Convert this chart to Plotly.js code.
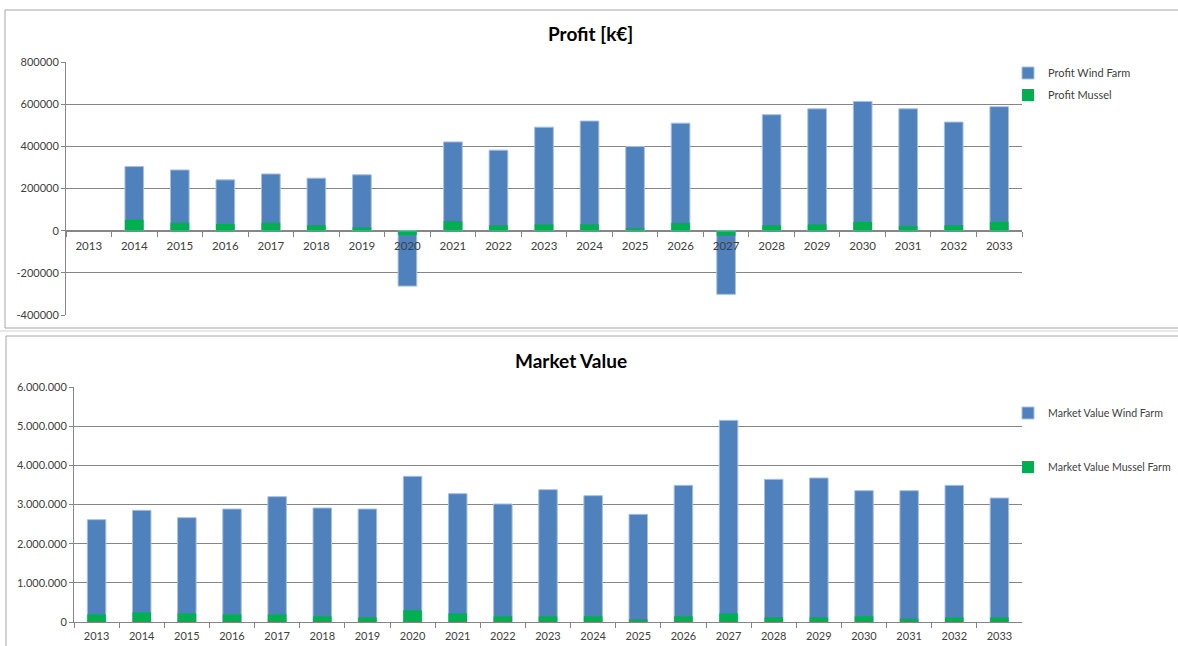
<!DOCTYPE html>
<html>
<head>
<meta charset="utf-8">
<script src="https://cdn.plot.ly/plotly-3.0.1.min.js"></script>
<style>
html,body{margin:0;padding:0;background:#fff;}
#chart{width:1178px;height:646px;}
</style>
</head>
<body>
<div id="chart"></div>
<script>
// ---- Data ----
const years = ['2013','2014','2015','2016','2017','2018','2019','2020','2021','2022','2023','2024','2025','2026','2027','2028','2029','2030','2031','2032','2033'];

const profitWindFarm = [null, 304000, 288000, 241000, 269000, 249000, 265000, -263000, 421000, 382000, 491000, 520000, 399000, 510000, -302000, 550000, 578000, 613000, 578000, 515000, 588000];
const profitMussel   = [null, 51000, 38000, 32000, 38000, 26000, 16000, -20000, 46000, 26000, 30000, 30000, 11000, 37000, -24000, 26000, 30000, 41000, 21000, 26000, 41000];

const marketValueWindFarm   = [2613000, 2851000, 2664000, 2885000, 3200000, 2911000, 2885000, 3719000, 3277000, 3013000, 3379000, 3226000, 2749000, 3489000, 5149000, 3643000, 3677000, 3353000, 3353000, 3489000, 3166000];
const marketValueMusselFarm = [196000, 247000, 221000, 196000, 196000, 145000, 119000, 298000, 221000, 145000, 145000, 145000, 68000, 145000, 221000, 119000, 119000, 145000, 85000, 119000, 119000];

const profitTickVals = [-400000, -200000, 0, 200000, 400000, 600000, 800000];
const profitTickText = ['-400000', '-200000', '0', '200000', '400000', '600000', '800000'];
const profitRange = [-400000, 800000];
const marketRange = [0, 6000000];
const marketTickVals = [0, 1000000, 2000000, 3000000, 4000000, 5000000, 6000000];

// ---- Style ----
const W = 1178, H = 646;
const BLUE = '#4F81BD', GREEN = '#00B050';
const GRID = '#868686', TXT = '#404040';
const FONT = 'Lato, "Open Sans", sans-serif';
const px = v => v / W;
const py = v => 1 - v / H;

const topDomY = [py(315), py(62)];
const botDomY = [py(622), py(387)];
// x-axis of top chart sits at value 0
const zeroFrac = (0 - profitRange[0]) / (profitRange[1] - profitRange[0]);
const topXPos = topDomY[0] + (topDomY[1] - topDomY[0]) * zeroFrac;

const traces = [
  {type:'bar', x:years, y:profitWindFarm, name:'Profit Wind Farm', xaxis:'x', yaxis:'y',
   marker:{color:BLUE, line:{color:'#a8c0df', width:1}}, legend:'legend', hoverinfo:'x+y'},
  {type:'bar', x:years, y:profitMussel, name:'Profit Mussel', xaxis:'x', yaxis:'y',
   marker:{color:GREEN, line:{width:0}}, legend:'legend2', hoverinfo:'x+y'},
  {type:'bar', x:years, y:marketValueWindFarm, name:'Market Value Wind Farm', xaxis:'x2', yaxis:'y2',
   marker:{color:BLUE, line:{color:'#a8c0df', width:1}}, legend:'legend3', hoverinfo:'x+y'},
  {type:'bar', x:years, y:marketValueMusselFarm, name:'Market Value Mussel Farm', xaxis:'x2', yaxis:'y2',
   marker:{color:GREEN, line:{width:0}}, legend:'legend4', hoverinfo:'x+y'}
];

const legendBase = {xanchor:'left', yanchor:'middle', bgcolor:'rgba(0,0,0,0)', borderwidth:0,
  font:{family:FONT, size:11, color:TXT}, itemclick:false, itemdoubleclick:false};
const legendBot = Object.assign({}, legendBase, {font:{family:FONT, size:10.6, color:TXT}});
const LX = px(1008);

const layout = {
  width: W, height: H,
  margin: {l:0, r:0, t:0, b:0, autoexpand:false},
  paper_bgcolor: '#ffffff',
  plot_bgcolor: 'rgba(0,0,0,0)',
  font: {family: FONT, size: 11, color: TXT},
  separators: ',.',
  barmode: 'overlay',
  bargap: 0.59,
  showlegend: true,
  xaxis: {
    domain: [px(66), px(1022)], anchor: 'free', position: topXPos,
    type: 'category', showgrid: false, zeroline: false,
    showline: true, linecolor: GRID, linewidth: 1,
    ticks: 'outside', tickson: 'boundaries', ticklen: 5, tickcolor: GRID,
    ticklabelstandoff: 5,
    tickfont: {family: FONT, size: 11.5, color: TXT}, fixedrange: true
  },
  yaxis: {
    domain: topDomY, anchor: 'x', range: profitRange,
    tickvals: profitTickVals, ticktext: profitTickText,
    showgrid: true, gridcolor: GRID, gridwidth: 1, zeroline: false,
    showline: true, linecolor: GRID, linewidth: 1,
    ticks: 'outside', ticklen: 4, tickcolor: GRID,
    tickfont: {family: FONT, size: 11, color: TXT}, fixedrange: true
  },
  xaxis2: {
    domain: [px(74), px(1022)], anchor: 'y2',
    type: 'category', showgrid: false, zeroline: false,
    showline: true, linecolor: GRID, linewidth: 1,
    ticks: 'outside', tickson: 'boundaries', ticklen: 5, tickcolor: GRID,
    ticklabelstandoff: 4,
    tickfont: {family: FONT, size: 11, color: TXT}, fixedrange: true
  },
  yaxis2: {
    domain: botDomY, anchor: 'x2', range: marketRange,
    tickvals: marketTickVals, tickformat: ',d',
    showgrid: true, gridcolor: GRID, gridwidth: 1, zeroline: false,
    showline: true, linecolor: GRID, linewidth: 1,
    ticks: 'outside', ticklen: 4, tickcolor: GRID,
    tickfont: {family: FONT, size: 11, color: TXT}, fixedrange: true
  },
  legend:  Object.assign({}, legendBase, {x: LX, y: py(73)}),
  legend2: Object.assign({}, legendBase, {x: LX, y: py(95)}),
  legend3: Object.assign({}, legendBot, {x: LX, y: py(413)}),
  legend4: Object.assign({}, legendBot, {x: LX, y: py(467)}),
  annotations: [
    {text: '<b>Profit [k€]</b>', xref:'paper', yref:'paper', x: px(590), y: py(33),
     xanchor:'center', yanchor:'middle', showarrow:false,
     font:{family: FONT, size: 19, color:'#000000'}},
    {text: '<b>Market Value</b>', xref:'paper', yref:'paper', x: px(571), y: py(360),
     xanchor:'center', yanchor:'middle', showarrow:false,
     font:{family: FONT, size: 19, color:'#000000'}}
  ],
  shapes: [
    {type:'rect', xref:'paper', yref:'paper', x0: px(5), x1: 1.02, y0: py(328), y1: py(10),
     line:{color:'#a6a6a6', width:1}, fillcolor:'rgba(0,0,0,0)', layer:'below'},
    {type:'line', xref:'paper', yref:'paper', x0: 0, x1: 1.02, y0: py(331), y1: py(331),
     line:{color:'#d0d0d0', width:1}},
    {type:'rect', xref:'paper', yref:'paper', x0: px(6), x1: 1.02, y0: -0.05, y1: py(336),
     line:{color:'#a6a6a6', width:1}, fillcolor:'rgba(0,0,0,0)', layer:'below'}
  ]
};

Plotly.newPlot('chart', traces, layout, {displayModeBar: false, staticPlot: true});
</script>
</body>
</html>
